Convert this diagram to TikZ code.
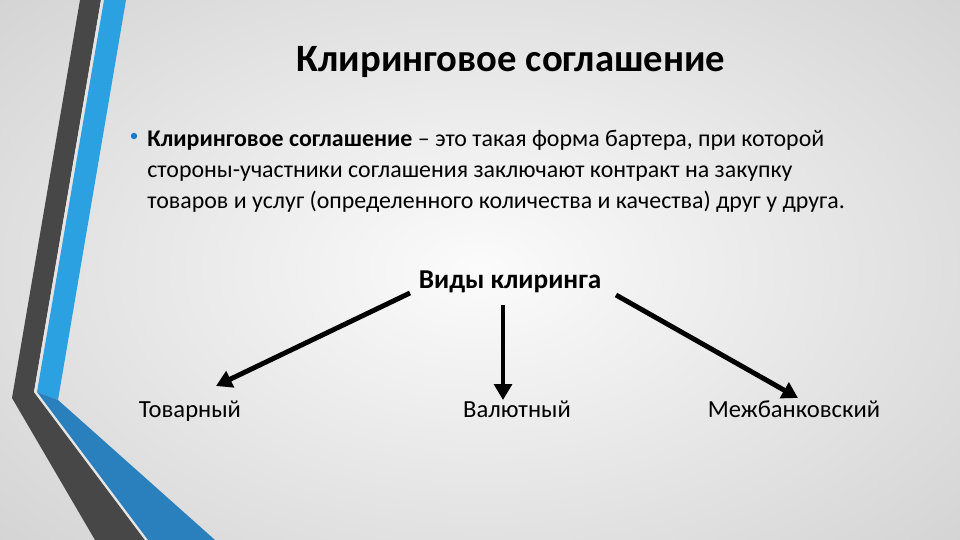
\documentclass[tikz,border=0pt]{standalone}
\usepackage{fontspec}
\setmainfont{Carlito}
\usetikzlibrary{arrows.meta}
\begin{document}
\begin{tikzpicture}[x=0.02cm,y=-0.02cm,
  lbl/.style={font=\fontsize{14pt}{16pt}\selectfont, inner sep=0pt, anchor=base},
  arr/.style={line width=2.8pt, -{Triangle[length=9pt,width=10pt]}}]
\useasboundingbox (0,0) rectangle (960,540);
\shade[inner color=gray!3, outer color=gray!35] (-200,-150) rectangle (1160,690);
% left decoration
\fill[black!72] (80,0) -- (101,0) -- (34,392) -- (145,540) -- (95,540) -- (12,398) -- cycle;
\fill[white!80!gray] (101,0) -- (104,0) -- (37,392) -- (148,540) -- (145,540) -- (34,392) -- cycle;
\fill[cyan!80!blue!85] (104,0) -- (126,0) -- (58,400) -- (37,392) -- cycle;
\fill[cyan!70!blue!85!black] (37,392) -- (58,400) -- (215,540) -- (148,540) -- cycle;
% title
\node[font=\fontsize{22pt}{26pt}\selectfont\bfseries, inner sep=0pt] (title) at (511,62) {Клиринговое соглашение};
\fill[cyan!60!blue] (134,136) circle (3.2);
\node[anchor=north west, align=left, inner sep=0pt,
  font=\fontsize{13.6pt}{17.6pt}\selectfont] (def) at (147,130)
  {\textbf{Клиринговое соглашение} – это такая форма бартера, при которой\\
   стороны-участники соглашения заключают контракт на закупку\\
   товаров и услуг (определенного количества и качества) друг у друга.};
\node[font=\fontsize{15.5pt}{18pt}\selectfont\bfseries, inner sep=0pt] (vid) at (510,282) {Виды клиринга};
\node[lbl] (t1) at (190,418) {Товарный};
\node[lbl] (t2) at (517,418) {Валютный};
\node[lbl] (t3) at (794,418) {Межбанковский};
\coordinate (a1) at (410,293); \coordinate (b1) at (216,386);
\coordinate (a2) at (503,305); \coordinate (b2) at (503,400);
\coordinate (a3) at (616,295); \coordinate (b3) at (798,398);
\draw[arr] (a1) -- (b1);
\draw[arr] (a2) -- (b2);
\draw[arr] (a3) -- (b3);
\end{tikzpicture}
\end{document}
